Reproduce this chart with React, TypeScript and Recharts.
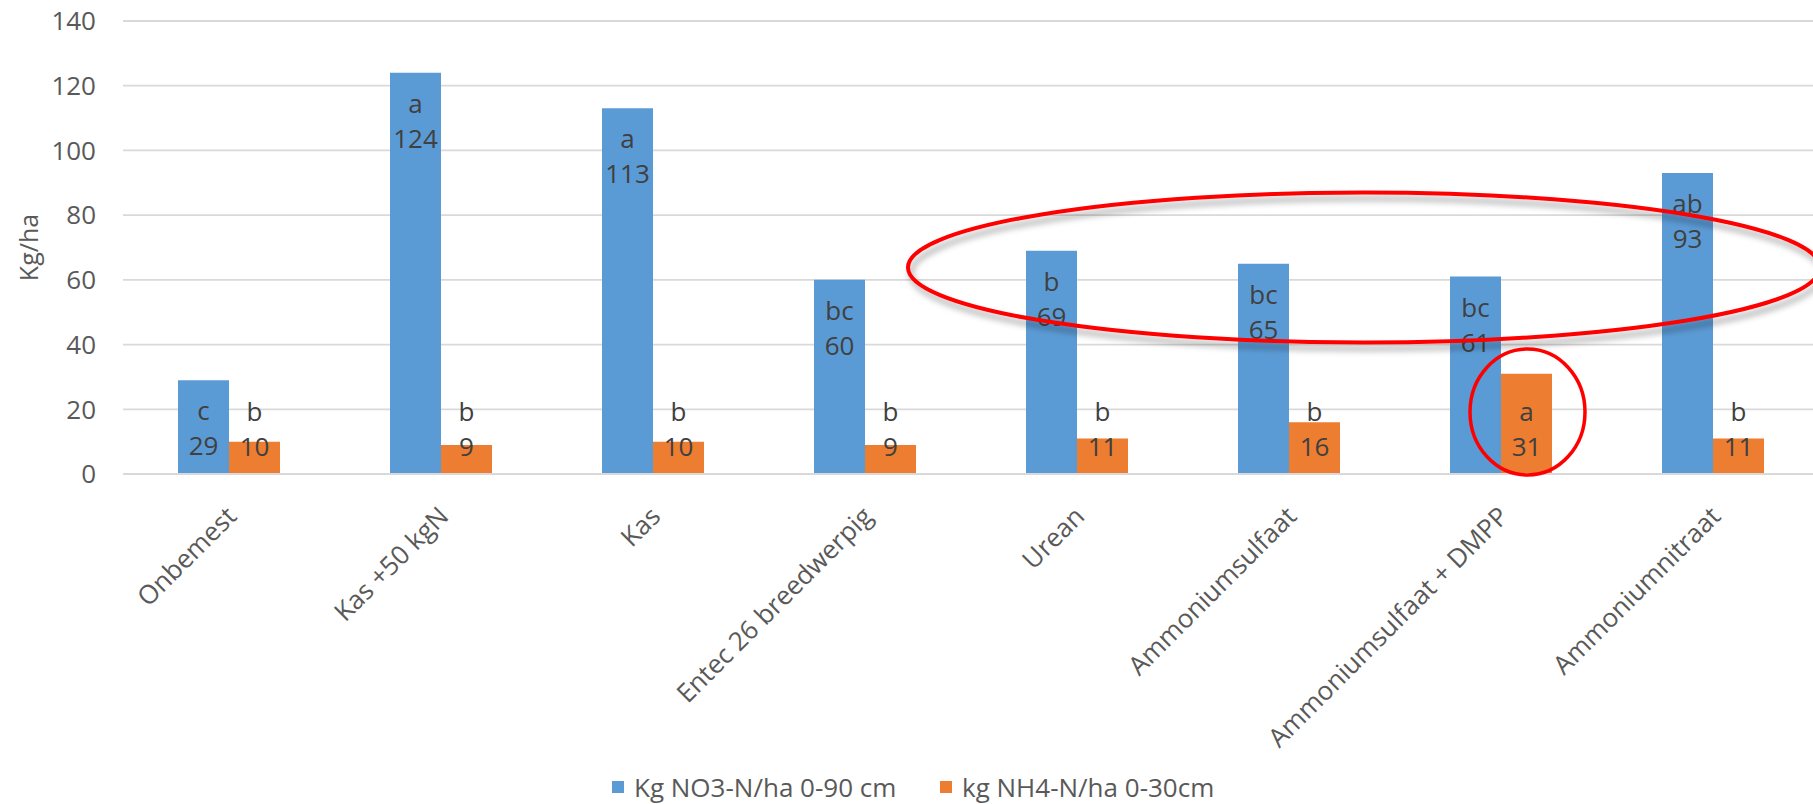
import React from 'react';
import {
  BarChart,
  Bar,
  XAxis,
  YAxis,
  CartesianGrid,
  Legend,
  LabelList,
} from 'recharts';

const categories = [
  'Onbemest',
  'Kas +50 kgN',
  'Kas',
  'Entec 26 breedwerpig',
  'Urean',
  'Ammoniumsulfaat',
  'Ammoniumsulfaat + DMPP',
  'Ammoniumnitraat',
];
const no3Values = [29, 124, 113, 60, 69, 65, 61, 93];
const nh4Values = [10, 9, 10, 9, 11, 16, 31, 11];
const no3Letters = ['c', 'a', 'a', 'bc', 'b', 'bc', 'bc', 'ab'];
const nh4Letters = ['b', 'b', 'b', 'b', 'b', 'b', 'a', 'b'];
const yTicks = [0, 20, 40, 60, 80, 100, 120, 140];

const NO3_NAME = 'Kg NO3-N/ha 0-90 cm';
const NH4_NAME = 'kg NH4-N/ha 0-30cm';
const BLUE = '#5B9BD5';
const ORANGE = '#ED7D31';
const FONT = '"Open Sans", sans-serif';

const data = categories.map((name, i) => ({
  name,
  no3: no3Values[i],
  nh4: nh4Values[i],
}));

// letter + number, hanging from the top of the bar
const No3Label = (props: any) => {
  const { x, y, width, value, index } = props;
  const cx = x + width / 2;
  return (
    <g fontFamily={FONT} fontSize={26} fill="#404040" textAnchor="middle">
      <text x={cx} y={y + 40}>{no3Letters[index]}</text>
      <text x={cx} y={y + 75}>{value}</text>
    </g>
  );
};

// letter + number, sitting on the axis
const Nh4Label = (props: any) => {
  const { x, y, width, height, value, index } = props;
  const cx = x + width / 2;
  const base = y + height;
  return (
    <g fontFamily={FONT} fontSize={26} fill="#404040" textAnchor="middle">
      <text x={cx} y={base - 53}>{nh4Letters[index]}</text>
      <text x={cx} y={base - 18}>{value}</text>
    </g>
  );
};

const CategoryTick = (props: any) => {
  const { x, y, payload } = props;
  const px = x + 9;
  const py = y + 44;
  return (
    <text
      x={px}
      y={py}
      transform={`rotate(-45, ${px}, ${py})`}
      textAnchor="end"
      fontFamily={FONT}
      fontSize={26}
      fill="#595959"
    >
      {payload.value}
    </text>
  );
};

const LegendContent = () => (
  <div
    style={{
      height: 40,
      boxSizing: 'border-box',
      paddingTop: 6,
      display: 'flex',
      alignItems: 'center',
      paddingLeft: 612,
      fontFamily: FONT,
      fontSize: 26,
      color: '#595959',
    }}
  >
    {[
      { name: NO3_NAME, color: BLUE, w: 328 },
      { name: NH4_NAME, color: ORANGE, w: 300 },
    ].map((item) => (
      <div key={item.name} style={{ display: 'flex', alignItems: 'center', width: item.w }}>
        <span style={{ width: 12, height: 12, background: item.color, marginRight: 10 }} />
        <span style={{ whiteSpace: 'nowrap' }}>{item.name}</span>
      </div>
    ))}
  </div>
);

export default function App() {
  return (
    <div
      style={{
        position: 'fixed',
        left: 0,
        top: 0,
        width: 1813,
        height: 804,
        overflow: 'hidden',
        background: '#fff',
      }}
    >
      <BarChart
        width={1830}
        height={804}
        data={data}
        margin={{ top: 21, right: 11, left: 0, bottom: 0 }}
        barGap={0}
        barSize={51}
      >
        <CartesianGrid vertical={false} stroke="#D9D9D9" strokeWidth={1.8} />
        <XAxis
          dataKey="name"
          interval={0}
          height={290}
          tickLine={false}
          tickSize={0}
          tickMargin={0}
          axisLine={{ stroke: '#D9D9D9', strokeWidth: 2 }}
          tick={<CategoryTick />}
        />
        <YAxis
          domain={[0, 140]}
          ticks={yTicks}
          width={123}
          axisLine={false}
          tickLine={false}
          tickSize={0}
          tickMargin={27}
          tick={{ fontFamily: FONT, fontSize: 26, fill: '#595959' }}
          label={(p: any) => {
            const vb = p.viewBox || {};
            const cy = (vb.y ?? 21) + (vb.height ?? 453) / 2;
            return (
              <text
                x={28}
                y={cy}
                transform={`rotate(-90, 28, ${cy})`}
                textAnchor="middle"
                dominantBaseline="central"
                fontFamily={FONT}
                fontSize={25}
                fill="#595959"
              >
                Kg/ha
              </text>
            );
          }}
        />
        <Legend verticalAlign="bottom" content={<LegendContent />} wrapperStyle={{ left: 0, width: 1830 }} />
        <Bar dataKey="no3" name={NO3_NAME} fill={BLUE} isAnimationActive={false}>
          <LabelList dataKey="no3" content={<No3Label />} />
        </Bar>
        <Bar dataKey="nh4" name={NH4_NAME} fill={ORANGE} isAnimationActive={false}>
          <LabelList dataKey="nh4" content={<Nh4Label />} />
        </Bar>
      </BarChart>

      {/* hand-drawn highlight rings on top of the chart */}
      <svg
        width={1813}
        height={804}
        style={{ position: 'absolute', left: 0, top: 0, pointerEvents: 'none' }}
      >
        <defs>
          <filter id="ringShadow" x="-10%" y="-50%" width="120%" height="200%">
            <feDropShadow dx={3} dy={6} stdDeviation={3} floodColor="#000" floodOpacity={0.35} />
          </filter>
        </defs>
        <ellipse
          cx={1364}
          cy={267.5}
          rx={456}
          ry={75}
          fill="none"
          stroke="#FF0000"
          strokeWidth={4}
          filter="url(#ringShadow)"
        />
        <ellipse cx={1527.5} cy={412} rx={57.5} ry={63} fill="none" stroke="#FF0000" strokeWidth={3.5} />
      </svg>
    </div>
  );
}
